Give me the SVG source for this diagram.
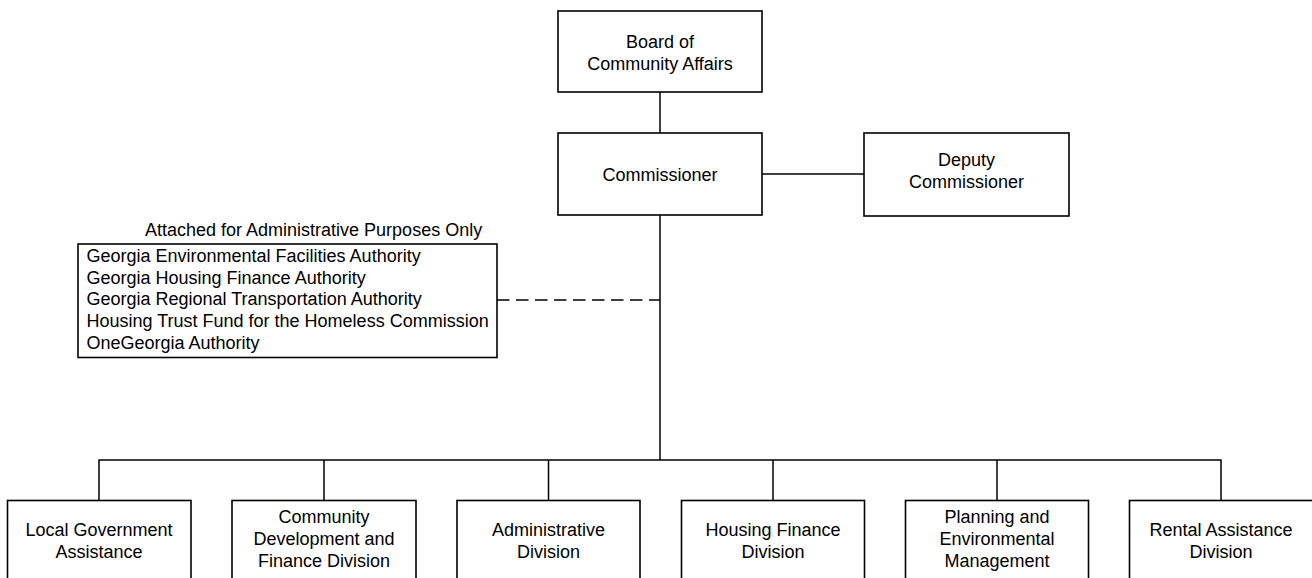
<svg xmlns="http://www.w3.org/2000/svg" width="1312" height="578" viewBox="0 0 1312 578">
<style>
.box{fill:#fff;stroke:#000;stroke-width:1.6}
.ln{fill:none;stroke:#000;stroke-width:1.5}
.dash{fill:none;stroke:#000;stroke-width:1.5;stroke-dasharray:12.5 6.5}
text{font-family:"Liberation Sans",Arial,sans-serif;font-size:18px;fill:#000}
.c{text-anchor:middle}
</style>
<rect width="1312" height="578" fill="#fff"/>
<g id="connectors">
<line class="ln" x1="660" y1="92" x2="660" y2="133"/>
<line class="ln" x1="762" y1="174" x2="864" y2="174"/>
<line class="ln" x1="660" y1="215" x2="660" y2="460"/>
<line class="dash" x1="497" y1="300" x2="660" y2="300"/>
<polyline class="ln" points="99,500 99,460 1221,460 1221,500"/>
<line class="ln" x1="324" y1="460" x2="324" y2="500"/>
<line class="ln" x1="548.5" y1="460" x2="548.5" y2="500"/>
<line class="ln" x1="773" y1="460" x2="773" y2="500"/>
<line class="ln" x1="997" y1="460" x2="997" y2="500"/>
</g>
<g id="board">
<rect class="box" x="558" y="11" width="204" height="81"/>
<text class="c" x="660" y="47.5">Board of</text>
<text class="c" x="660" y="69.5">Community Affairs</text>
</g>
<g id="commissioner">
<rect class="box" x="558" y="133" width="204" height="82"/>
<text class="c" x="660" y="180.5">Commissioner</text>
</g>
<g id="deputy">
<rect class="box" x="864" y="133" width="205" height="83"/>
<text class="c" x="966.5" y="165.5">Deputy</text>
<text class="c" x="966.5" y="187.5">Commissioner</text>
</g>
<g id="attached">
<text x="145" y="235.5">Attached for Administrative Purposes Only</text>
<rect class="box" x="78" y="244" width="419" height="113.5"/>
<text x="86.5" y="262">Georgia Environmental Facilities Authority</text>
<text x="86.5" y="283.7">Georgia Housing Finance Authority</text>
<text x="86.5" y="305.4">Georgia Regional Transportation Authority</text>
<text x="86.5" y="327.1">Housing Trust Fund for the Homeless Commission</text>
<text x="86.5" y="348.8">OneGeorgia Authority</text>
</g>
<g id="local-government">
<rect class="box" x="7.5" y="500.5" width="183.5" height="85"/>
<text class="c" x="99" y="535.5">Local Government</text>
<text class="c" x="99" y="557.5">Assistance</text>
</g>
<g id="community-development">
<rect class="box" x="232" y="500.5" width="184" height="85"/>
<text class="c" x="324" y="522.5">Community</text>
<text class="c" x="324" y="544.5">Development and</text>
<text class="c" x="324" y="566.5">Finance Division</text>
</g>
<g id="administrative">
<rect class="box" x="457" y="500.5" width="183" height="85"/>
<text class="c" x="548.5" y="535.5">Administrative</text>
<text class="c" x="548.5" y="557.5">Division</text>
</g>
<g id="housing-finance">
<rect class="box" x="681.5" y="500.5" width="183" height="85"/>
<text class="c" x="773" y="535.5">Housing Finance</text>
<text class="c" x="773" y="557.5">Division</text>
</g>
<g id="planning">
<rect class="box" x="905.5" y="500.5" width="183" height="85"/>
<text class="c" x="997" y="522.5">Planning and</text>
<text class="c" x="997" y="544.5">Environmental</text>
<text class="c" x="997" y="566.5">Management</text>
</g>
<g id="rental-assistance">
<rect class="box" x="1129.5" y="500.5" width="190" height="85"/>
<text class="c" x="1221" y="535.5">Rental Assistance</text>
<text class="c" x="1221" y="557.5">Division</text>
</g>
</svg>
